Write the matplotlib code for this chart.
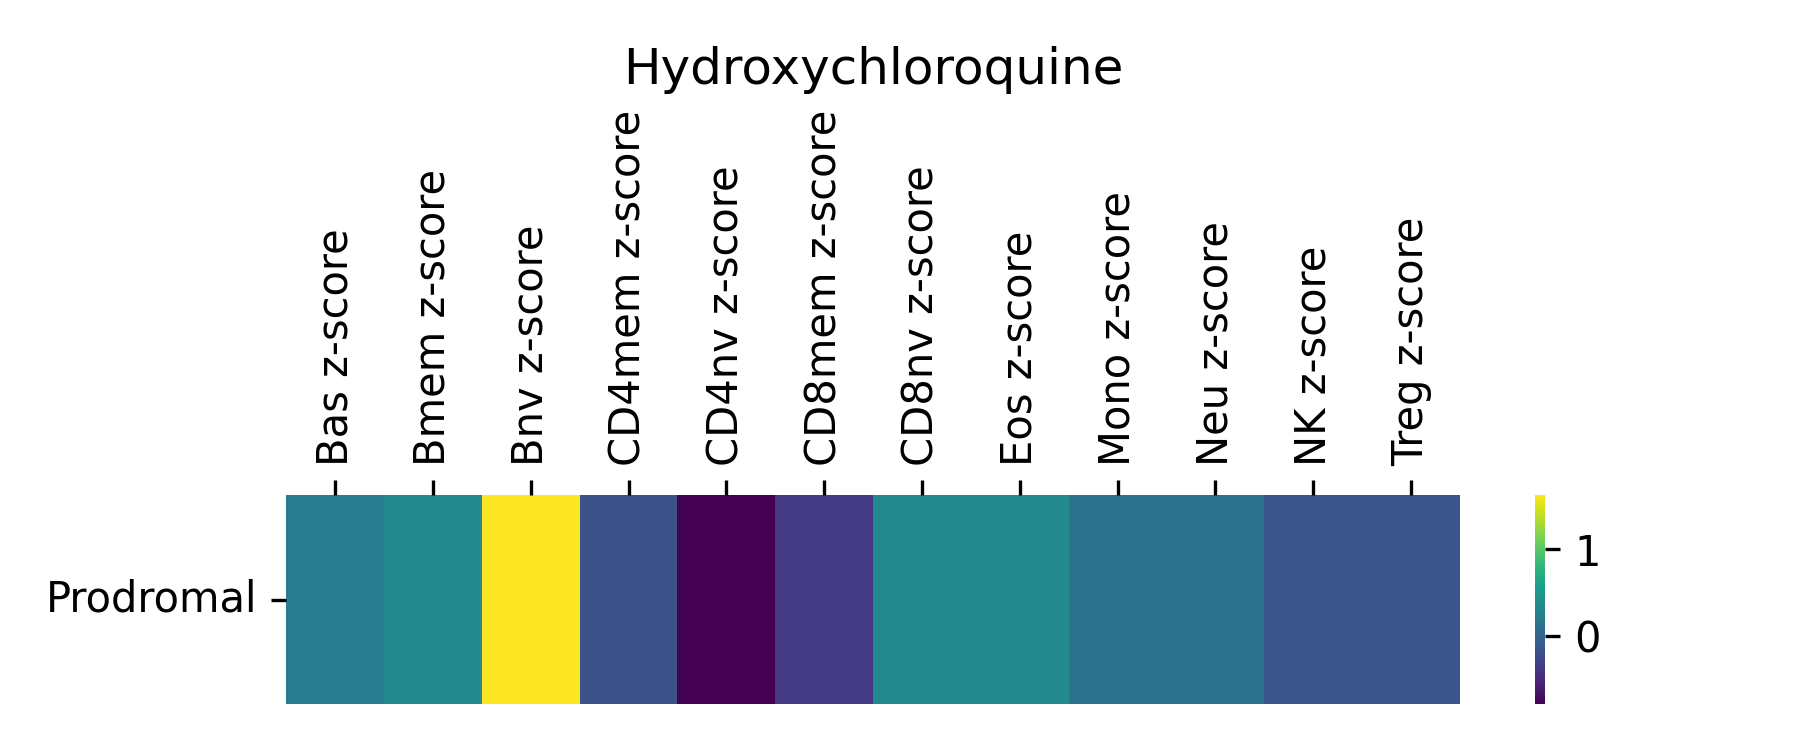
import matplotlib
matplotlib.use("Agg")
import matplotlib.pyplot as plt
import seaborn as sns
import pandas as pd

cells = ["Bas", "Bmem", "Bnv", "CD4mem", "CD4nv", "CD8mem",
         "CD8nv", "Eos", "Mono", "Neu", "NK", "Treg"]
rows = ["Prodromal"]
zscores = [0.22, 0.36, 1.63, -0.18, -0.79, -0.38, 0.35, 0.35, 0.12, 0.12, -0.16, -0.16]

df = pd.DataFrame([zscores], index=rows, columns=[c + " z-score" for c in cells])

fig = plt.figure(figsize=(6, 2.5), dpi=300)
ax = fig.add_axes([0.159, 0.0613, 0.652, 0.2787])
cax = fig.add_axes([0.853, 0.0613, 0.0055, 0.2787])

sns.heatmap(df, cmap="viridis", ax=ax, cbar_ax=cax, cbar_kws={"ticks": [0, 1]})
ax.xaxis.tick_top()
ax.set_xticklabels(ax.get_xticklabels(), rotation=90)
ax.set_yticklabels(ax.get_yticklabels(), rotation=0)
cax.tick_params(length=3.5)
cax.set_frame_on(False)
ax.set_title("Hydroxychloroquine", fontsize=12)

fig.savefig("out.png", dpi=300)
